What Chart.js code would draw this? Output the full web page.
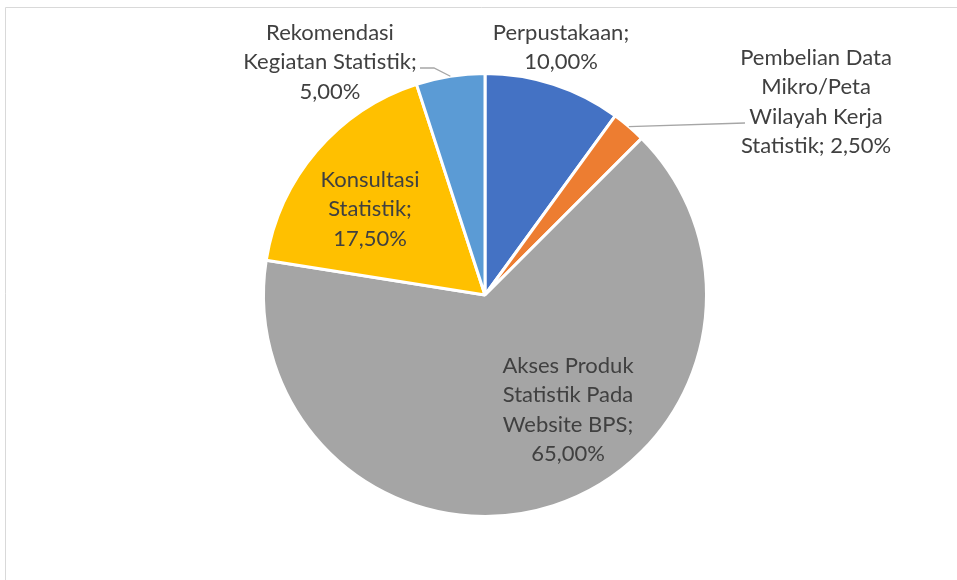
<!DOCTYPE html>
<html>
<head>
<meta charset="utf-8">
<script src="https://cdn.jsdelivr.net/npm/chart.js@4.4.1/dist/chart.umd.min.js"></script>
<style>
  html, body { margin: 0; padding: 0; background: #fff; }
  #wrap { width: 957px; height: 580px; position: relative; }
</style>
</head>
<body>
<div id="wrap"><canvas id="pie" width="957" height="580"></canvas></div>
<script>
// data
const categories = [
  'Perpustakaan',
  'Pembelian Data Mikro/Peta Wilayah Kerja Statistik',
  'Akses Produk Statistik Pada Website BPS',
  'Konsultasi Statistik',
  'Rekomendasi Kegiatan Statistik'
];
const shares = [10.0, 2.5, 65.0, 17.5, 5.0];
const colors = ['#4472C4', '#ED7D31', '#A5A5A5', '#FFC000', '#5B9BD5'];

// how each label is broken into lines, and where it sits
const labelLines = [
  ['Perpustakaan;', '{v}'],
  ['Pembelian Data', 'Mikro/Peta', 'Wilayah Kerja', 'Statistik; {v}'],
  ['Akses Produk', 'Statistik Pada', 'Website BPS;', '{v}'],
  ['Konsultasi', 'Statistik;', '{v}'],
  ['Rekomendasi', 'Kegiatan Statistik;', '{v}']
];
const labelPos = [[561, 33], [816, 58], [568, 366], [370, 180], [330, 33]];
// leader line start (near the label) for the small slices, null = no line
const leaders = [null, [[745, 123]], null, null, [[420, 68], [434, 68]]];

const fmt = v => v.toFixed(2).replace('.', ',') + '%';

const labelPlugin = {
  id: 'excelLabels',
  beforeDraw(chart) {
    const ctx = chart.ctx;
    ctx.save();
    ctx.strokeStyle = '#d9d9d9';
    ctx.lineWidth = 1;
    ctx.beginPath();
    ctx.moveTo(5.5, 580);
    ctx.lineTo(5.5, 7.5);
    ctx.lineTo(957, 7.5);
    ctx.stroke();
    ctx.restore();
  },
  afterDraw(chart) {
    const ctx = chart.ctx;
    const arcs = chart.getDatasetMeta(0).data;
    ctx.save();
    // leader lines end on the arc edge at the slice's mid angle
    arcs.forEach((arc, i) => {
      if (!leaders[i]) return;
      const p = arc.getProps(['x', 'y', 'startAngle', 'endAngle', 'outerRadius'], true);
      const mid = (p.startAngle + p.endAngle) / 2;
      const ex = p.x + Math.cos(mid) * p.outerRadius;
      const ey = p.y + Math.sin(mid) * p.outerRadius;
      ctx.strokeStyle = '#a6a6a6';
      ctx.lineWidth = 1.3;
      ctx.beginPath();
      leaders[i].forEach((pt, k) => k ? ctx.lineTo(pt[0], pt[1]) : ctx.moveTo(pt[0], pt[1]));
      ctx.lineTo(ex, ey);
      ctx.stroke();
    });
    ctx.fillStyle = '#404040';
    ctx.font = '22px Lato, "Open Sans", sans-serif';
    ctx.textAlign = 'center';
    ctx.textBaseline = 'middle';
    labelLines.forEach((lines, i) => {
      const [x, y] = labelPos[i];
      lines.forEach((ln, k) => {
        ctx.fillText(ln.replace('{v}', fmt(shares[i])), x, y + k * 29.3);
      });
    });
    ctx.restore();
  }
};

new Chart(document.getElementById('pie').getContext('2d'), {
  type: 'pie',
  data: {
    labels: categories,
    datasets: [{
      data: shares,
      backgroundColor: colors,
      borderColor: '#ffffff',
      borderWidth: 3
    }]
  },
  options: {
    responsive: false,
    animation: false,
    layout: { padding: { left: 13, right: 0, top: 72, bottom: 62 } },
    plugins: {
      legend: { display: false },
      tooltip: { enabled: false }
    }
  },
  plugins: [labelPlugin]
});
</script>
</body>
</html>
